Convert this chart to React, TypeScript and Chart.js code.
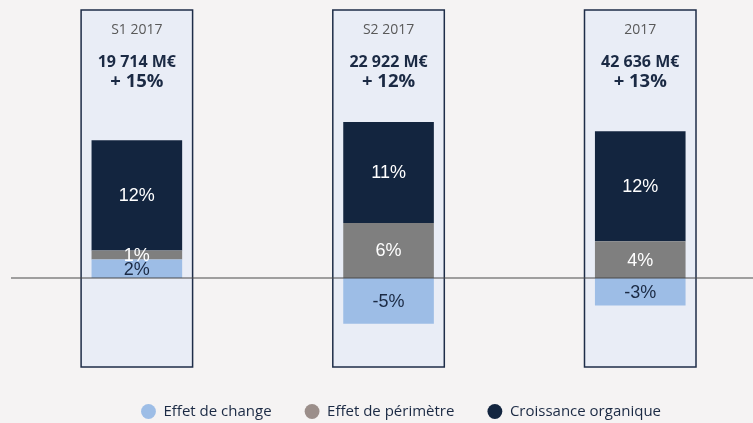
import React, { useEffect, useRef } from "react";
import { Chart, registerables } from "chart.js";

Chart.register(...registerables);

// ---- data ----
const categories = ["S1 2017", "S2 2017", "2017"];
const totals = ["19 714 M€", "22 922 M€", "42 636 M€"];
const growth = ["+ 15%", "+ 12%", "+ 13%"];
const seriesNames = ["Effet de change", "Effet de périmètre", "Croissance organique"];
const effetDeChange = [2, -5, -3];
const effetDePerimetre = [1, 6, 4];
const croissanceOrganique = [12, 11, 12];
const yMin = -9.7;
const yMax = 29.2;

// ---- styles ----
const BAR_COLORS = ["#9dbde6", "#7f7f7f", "#13253f"];
const LEGEND_COLORS = ["#9dbde6", "#9b8e8a", "#13253f"];
const LABEL_COLORS = ["#1b2a44", "#ffffff", "#ffffff"];
const NAVY = "#1b2a44";
const BOX_FILL = "#e9edf6";
const BOX_BORDER = "#1e2d48";
const BG = "#f5f3f3";

const boxPlugin = {
  id: "boxesAndLabels",
  beforeDatasetsDraw(chart: any) {
    const { ctx, chartArea, scales } = chart;
    const xs = scales.x;
    const catW = xs.width / categories.length;
    const bw = catW * 0.443;
    ctx.save();
    categories.forEach((c, i) => {
      const cx = xs.getPixelForValue(i);
      const h = chartArea.bottom - chartArea.top;
      ctx.fillStyle = BOX_FILL;
      ctx.fillRect(cx - bw / 2, chartArea.top, bw, h);
      ctx.strokeStyle = BOX_BORDER;
      ctx.lineWidth = 1.5;
      ctx.strokeRect(cx - bw / 2, chartArea.top, bw, h);
      ctx.textAlign = "center";
      ctx.textBaseline = "middle";
      ctx.fillStyle = "#595959";
      ctx.font = '14px "Open Sans"';
      ctx.fillText(c, cx, chartArea.top + 20);
      ctx.fillStyle = NAVY;
      ctx.font = 'bold 16px "Open Sans"';
      ctx.fillText(totals[i], cx, chartArea.top + 52);
      ctx.font = 'bold 18.5px "Open Sans"';
      ctx.fillText(growth[i], cx, chartArea.top + 72);
    });
    ctx.restore();
  },
  afterDatasetsDraw(chart: any) {
    const { ctx, chartArea, scales } = chart;
    const y0 = scales.y.getPixelForValue(0);
    ctx.save();
    ctx.strokeStyle = "#4a4a4a";
    ctx.lineWidth = 1.2;
    ctx.beginPath();
    ctx.moveTo(chartArea.left, y0);
    ctx.lineTo(chart.width, y0);
    ctx.stroke();
    ctx.textAlign = "center";
    ctx.textBaseline = "middle";
    ctx.font = '18px "Liberation Sans", Arial, sans-serif';
    chart.data.datasets.forEach((ds: any, di: number) => {
      const meta = chart.getDatasetMeta(di);
      meta.data.forEach((el: any, i: number) => {
        const v = ds.data[i];
        const { x, y, base } = el.getProps(["x", "y", "base"], true);
        ctx.fillStyle = LABEL_COLORS[di];
        ctx.fillText(`${v}%`, x, (y + base) / 2 + 1);
      });
    });
    ctx.restore();
  },
};

export default function App() {
  const ref = useRef<HTMLCanvasElement | null>(null);

  useEffect(() => {
    document.body.style.margin = "0";
    document.body.style.background = BG;
    const canvas = ref.current;
    if (!canvas) return;
    const seriesValues = [effetDeChange, effetDePerimetre, croissanceOrganique];
    const chart = new Chart(canvas, {
      type: "bar",
      data: {
        labels: categories,
        datasets: seriesNames.map((name, i) => ({
          label: name,
          data: seriesValues[i],
          backgroundColor: BAR_COLORS[i],
          borderWidth: 0,
          barPercentage: 0.36,
          categoryPercentage: 1,
        })),
      },
      options: {
        responsive: false,
        animation: false,
        devicePixelRatio: 1,
        layout: { padding: { left: 11, right: 1, top: 10, bottom: 0 } },
        scales: {
          x: {
            stacked: true,
            display: true,
            grid: { display: false },
            border: { display: false },
            ticks: { display: false },
            afterFit: (s: any) => {
              s.height = 4;
            },
          },
          y: {
            stacked: true,
            position: "right",
            min: yMin,
            max: yMax,
            display: true,
            grid: { display: false },
            border: { display: false },
            ticks: { display: false },
            afterFit: (s: any) => {
              s.width = 24.9;
            },
          },
        },
        plugins: {
          tooltip: { enabled: false },
          legend: {
            position: "bottom",
            labels: {
              usePointStyle: true,
              pointStyle: "circle",
              boxHeight: 10.5,
              padding: 33,
              color: NAVY,
              font: { family: '"Open Sans"', size: 15 },
              generateLabels: (c: any) =>
                c.data.datasets.map((ds: any, i: number) => ({
                  text: ds.label,
                  fillStyle: LEGEND_COLORS[i],
                  strokeStyle: LEGEND_COLORS[i],
                  lineWidth: 0,
                  pointStyle: "circle",
                  hidden: false,
                  datasetIndex: i,
                  fontColor: NAVY,
                })),
            },
          },
        },
      },
      plugins: [boxPlugin],
    } as any);
    return () => chart.destroy();
  }, []);

  return (
    <div
      style={{
        position: "fixed",
        left: 0,
        top: 0,
        width: 753,
        height: 423,
        overflow: "hidden",
        background: BG,
      }}
    >
      <canvas ref={ref} width={792} height={429} style={{ display: "block" }} />
    </div>
  );
}
